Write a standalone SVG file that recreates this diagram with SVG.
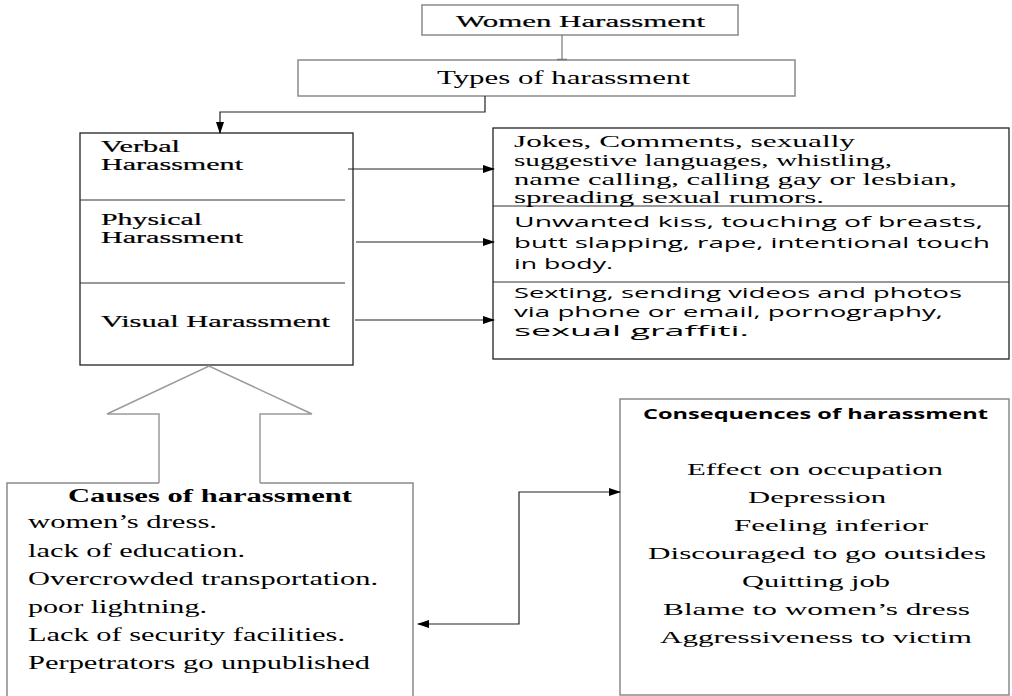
<svg xmlns="http://www.w3.org/2000/svg" width="1012" height="696" viewBox="0 0 1012 696">
<defs>
<marker id="ah" markerWidth="12" markerHeight="8" refX="11" refY="4" orient="auto" markerUnits="userSpaceOnUse">
<path d="M0,0 L12,4 L0,8 Z" fill="#000"/>
</marker>
<marker id="ahs" markerWidth="12" markerHeight="8" refX="1" refY="4" orient="auto" markerUnits="userSpaceOnUse">
<path d="M12,0 L0,4 L12,8 Z" fill="#000"/>
</marker>
</defs>
<style>
.serif{font-family:"Liberation Serif","Times New Roman",serif;fill:#000}
.med{stroke:#000;stroke-width:0.2}
.sans{font-family:"Open Sans","Noto Sans","DejaVu Sans",sans-serif;fill:#000}
.gbox{fill:#fff;stroke:#8a8a8a;stroke-width:1.5}
.dbox{fill:#fff;stroke:#222;stroke-width:1.3}
.div{stroke:#333;stroke-width:1}
.conn{fill:none;stroke:#222;stroke-width:1.2}
</style>
<rect width="1012" height="696" fill="#fff"/>

<g id="women-harassment">
<rect class="gbox" x="422" y="5" width="316" height="30"/>
<text class="serif med" x="456" y="27" font-size="17" textLength="249" lengthAdjust="spacingAndGlyphs">Women Harassment</text>
</g>

<g id="types">
<rect class="gbox" x="298" y="60" width="497" height="36"/>
<text class="serif" x="437" y="84" font-size="18" textLength="253" lengthAdjust="spacingAndGlyphs">Types of harassment</text>
</g>

<g id="harassment-types">
<rect class="dbox" x="80" y="133" width="273" height="232"/>
<line class="div" x1="80" y1="200" x2="345" y2="200"/>
<line class="div" x1="80" y1="283" x2="345" y2="283"/>
<text class="serif med" x="101" y="152" font-size="16" textLength="79" lengthAdjust="spacingAndGlyphs">Verbal</text>
<text class="serif med" x="101" y="170" font-size="16" textLength="142" lengthAdjust="spacingAndGlyphs">Harassment</text>
<text class="serif med" x="101" y="225" font-size="16" textLength="101" lengthAdjust="spacingAndGlyphs">Physical</text>
<text class="serif med" x="101" y="243" font-size="16" textLength="142" lengthAdjust="spacingAndGlyphs">Harassment</text>
<text class="serif med" x="101" y="327" font-size="16" textLength="229" lengthAdjust="spacingAndGlyphs">Visual Harassment</text>
</g>

<g id="examples">
<rect class="dbox" x="493" y="128" width="516" height="231"/>
<line class="div" x1="493" y1="206" x2="1009" y2="206"/>
<line class="div" x1="493" y1="282" x2="1009" y2="282"/>
<text class="serif" x="514" y="147" font-size="16" textLength="341" lengthAdjust="spacingAndGlyphs">Jokes, Comments, sexually</text>
<text class="serif" x="514" y="166" font-size="16" textLength="378" lengthAdjust="spacingAndGlyphs">suggestive languages, whistling,</text>
<text class="serif" x="514" y="185" font-size="16" textLength="443" lengthAdjust="spacingAndGlyphs">name calling, calling gay or lesbian,</text>
<text class="serif" x="514" y="203" font-size="16" textLength="310" lengthAdjust="spacingAndGlyphs">spreading sexual rumors.</text>
<text class="sans" x="514" y="227" font-size="15" textLength="469" lengthAdjust="spacingAndGlyphs">Unwanted kiss, touching of breasts,</text>
<text class="sans" x="514" y="248" font-size="15" textLength="476" lengthAdjust="spacingAndGlyphs">butt slapping, rape, intentional touch</text>
<text class="sans" x="514" y="269" font-size="15" textLength="99" lengthAdjust="spacingAndGlyphs">in body.</text>
<text class="sans" x="514" y="298" font-size="15" textLength="448" lengthAdjust="spacingAndGlyphs">Sexting, sending videos and photos</text>
<text class="sans" x="514" y="317" font-size="15" textLength="429" lengthAdjust="spacingAndGlyphs">via phone or email, pornography,</text>
<text class="sans" x="514" y="336" font-size="15" textLength="235" lengthAdjust="spacingAndGlyphs">sexual graffiti.</text>
</g>

<g id="causes">
<path d="M159,483 L7,483 L7,700 M413,700 L413,483 L260,483" fill="none" stroke="#8a8a8a" stroke-width="1.5"/>
<path d="M159,483 L159,414 L107,414 L209,366 L312,414 L260,414 L260,483" fill="none" stroke="#9a9a9a" stroke-width="1.5"/>
<text class="serif" x="68" y="502" font-size="18" font-weight="bold" textLength="284" lengthAdjust="spacingAndGlyphs">Causes of harassment</text>
<text class="serif" x="28" y="528" font-size="18" textLength="189" lengthAdjust="spacingAndGlyphs">women’s dress.</text>
<text class="serif" x="28" y="557" font-size="18" textLength="217" lengthAdjust="spacingAndGlyphs">lack of education.</text>
<text class="serif" x="28" y="585" font-size="18" textLength="350" lengthAdjust="spacingAndGlyphs">Overcrowded transportation.</text>
<text class="serif" x="28" y="613" font-size="18" textLength="179" lengthAdjust="spacingAndGlyphs">poor lightning.</text>
<text class="serif" x="28" y="641" font-size="18" textLength="317" lengthAdjust="spacingAndGlyphs">Lack of security facilities.</text>
<text class="serif" x="28" y="669" font-size="18" textLength="342" lengthAdjust="spacingAndGlyphs">Perpetrators go unpublished</text>
</g>

<g id="consequences">
<rect class="gbox" x="620" y="399" width="389" height="296"/>
<text class="sans" x="643" y="419" font-size="14.5" font-weight="bold" textLength="345" lengthAdjust="spacingAndGlyphs">Consequences of harassment</text>
<text class="serif" x="687" y="475" font-size="17" textLength="256" lengthAdjust="spacingAndGlyphs">Effect on occupation</text>
<text class="serif" x="748" y="503" font-size="17" textLength="138" lengthAdjust="spacingAndGlyphs">Depression</text>
<text class="serif" x="734" y="531" font-size="17" textLength="194" lengthAdjust="spacingAndGlyphs">Feeling inferior</text>
<text class="serif" x="648" y="559" font-size="17" textLength="338" lengthAdjust="spacingAndGlyphs">Discouraged to go outsides</text>
<text class="serif" x="742" y="587" font-size="17" textLength="148" lengthAdjust="spacingAndGlyphs">Quitting job</text>
<text class="serif" x="663" y="615" font-size="17" textLength="307" lengthAdjust="spacingAndGlyphs">Blame to women’s dress</text>
<text class="serif" x="660" y="643" font-size="17" textLength="312" lengthAdjust="spacingAndGlyphs">Aggressiveness to victim</text>
</g>

<g id="connectors">
<line x1="562" y1="35" x2="562" y2="59" stroke="#777" stroke-width="1.2"/>
<line x1="557" y1="59.5" x2="567" y2="59.5" stroke="#777" stroke-width="1.5"/>
<path class="conn" d="M485,96 L485,112 L220,112 L220,133" marker-end="url(#ah)"/>
<line class="conn" x1="348" y1="169" x2="494" y2="169" marker-end="url(#ah)"/>
<line class="conn" x1="356" y1="242" x2="494" y2="242" marker-end="url(#ah)"/>
<line class="conn" x1="355" y1="320" x2="494" y2="320" marker-end="url(#ah)"/>
<path class="conn" d="M418,624 L519,624 L519,492 L620,492" marker-start="url(#ahs)" marker-end="url(#ah)"/>
</g>
</svg>
